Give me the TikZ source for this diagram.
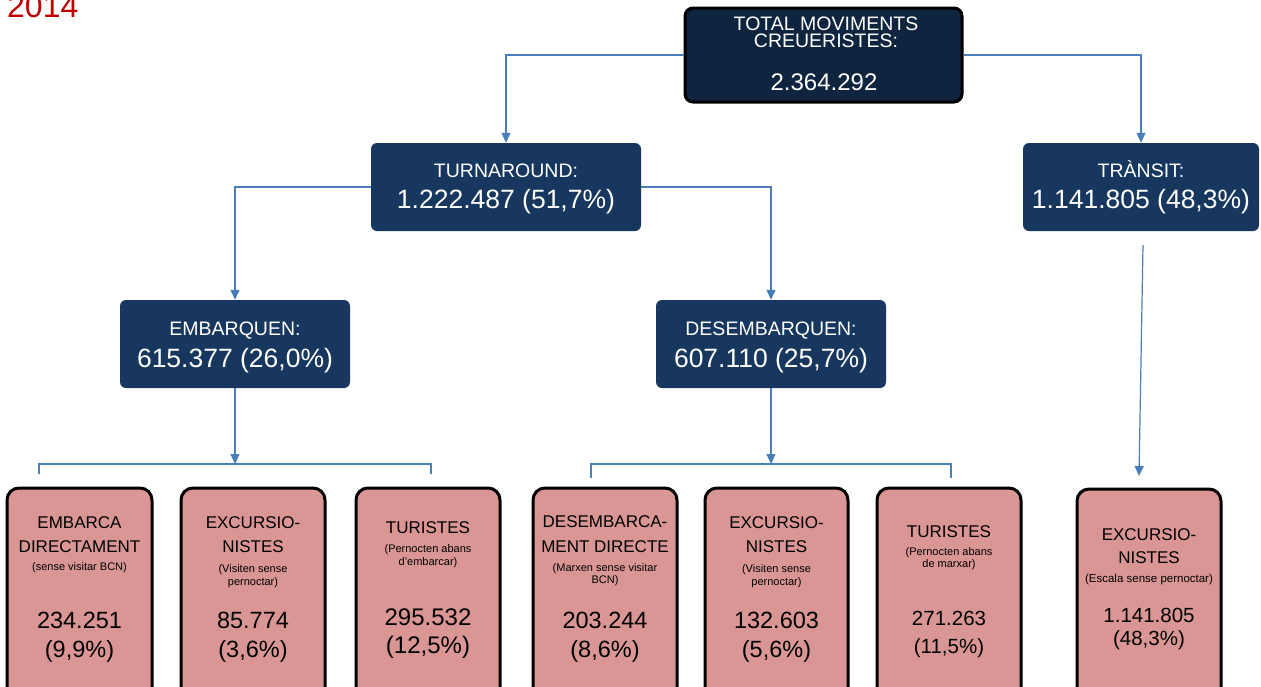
\documentclass[tikz,border=0pt]{standalone}
\usepackage{fontspec}
\setmainfont{Liberation Sans}
\usetikzlibrary{arrows.meta}
\definecolor{navy}{HTML}{0F243E}
\definecolor{dblue}{HTML}{17375E}
\definecolor{pinkbox}{HTML}{D99694}
\definecolor{conncol}{HTML}{4A7EBB}
\definecolor{redyear}{HTML}{C00000}
\newcommand\mytext[5]{\node[anchor=base,inner sep=0pt,font=\fontsize{#4}{#4}\selectfont] (#1) at (#2,#3) {#5};}
\tikzset{
  bluebox/.style={fill=dblue,draw=none,rounded corners=6pt,inner sep=0pt},
  totalbox/.style={fill=navy,draw=black,line width=3pt,rounded corners=8pt,inner sep=0pt},
  pinkb/.style={fill=pinkbox,draw=black,line width=3pt,rounded corners=12pt,inner sep=0pt},
  conn/.style={draw=conncol,line width=1.2pt},
  arr/.style={conn,-{Triangle[length=10pt,width=9pt]}},
}
\begin{document}
\begin{tikzpicture}[x=1pt,y=-1pt]
\useasboundingbox (0,0) rectangle (1261,686);
\clip (0,0) rectangle (1261,686);
% year
\node[anchor=base west,inner sep=0pt,text=redyear,font=\fontsize{32}{32}\selectfont] (year) at (7,17) {2014};
% upper boxes
\node[totalbox,minimum width=277pt,minimum height=94pt] (total) at (823.5,55) {};
\node[bluebox,minimum width=270pt,minimum height=88pt] (turn) at (506,187) {};
\node[bluebox,minimum width=236pt,minimum height=88pt] (transit) at (1141,187) {};
\node[bluebox,minimum width=230pt,minimum height=88pt] (emb) at (235,344) {};
\node[bluebox,minimum width=230pt,minimum height=88pt] (desemb) at (771,344) {};
% bottom boxes
\node[pinkb,minimum width=145pt,minimum height=222pt] (b1) at (79.5,599) {};
\node[pinkb,minimum width=144pt,minimum height=222pt] (b2) at (253,599) {};
\node[pinkb,minimum width=144pt,minimum height=222pt] (b3) at (428,599) {};
\node[pinkb,minimum width=144pt,minimum height=222pt] (b4) at (605,599) {};
\node[pinkb,minimum width=143pt,minimum height=222pt] (b5) at (776.5,599) {};
\node[pinkb,minimum width=144pt,minimum height=222pt] (b6) at (949,599) {};
\node[pinkb,minimum width=144pt,minimum height=222pt] (b7) at (1149,600) {};
% connectors
\draw[arr] (total.west) -| (turn.north);
\draw[arr] (total.east) -| (transit.north);
\draw[arr] (turn.west) -| (emb.north);
\draw[arr] (turn.east) -| (desemb.north);
\coordinate (embbr) at (235,464);
\coordinate (embL) at (39,474);
\coordinate (embR) at (431,474);
\draw[arr] (emb.south) -- (embbr);
\draw[conn] (embL) |- (embbr) -| (embR);
\coordinate (desbr) at (771,464);
\coordinate (desL) at (591,478);
\coordinate (desR) at (951,478);
\draw[arr] (desemb.south) -- (desbr);
\draw[conn] (desL) |- (desbr) -| (desR);
\coordinate (trs) at (1143,245);
\coordinate (tre) at (1139,476);
\draw[arr] (trs) -- (tre);
% texts in blue boxes
\begin{scope}[every node/.append style={text=white}]
\mytext{tA}{826}{30}{19.5}{TOTAL MOVIMENTS}
\mytext{tB}{826}{47}{19.5}{CREUERISTES:}
\mytext{tC}{824}{90}{24}{2.364.292}
\mytext{uA}{506}{177}{19.5}{TURNAROUND:}
\mytext{uB}{506}{208}{26.5}{1.222.487 (51,7\%)}
\mytext{rA}{1141}{177}{19.5}{TRÀNSIT:}
\mytext{rB}{1141}{208}{26.5}{1.141.805 (48,3\%)}
\mytext{eA}{235}{335}{19.5}{EMBARQUEN:}
\mytext{eB}{235}{367}{26.5}{615.377 (26,0\%)}
\mytext{dA}{771}{335}{19.5}{DESEMBARQUEN:}
\mytext{dB}{771}{367}{26.5}{607.110 (25,7\%)}
\end{scope}
% texts in pink boxes
\mytext{aA}{79.5}{528}{17}{EMBARCA}
\mytext{aB}{79.5}{552}{17}{DIRECTAMENT}
\mytext{aC}{79.5}{570}{11}{(sense visitar BCN)}
\mytext{aD}{79.5}{628}{23.5}{234.251}
\mytext{aE}{79.5}{657}{23.5}{(9,9\%)}
\mytext{bA}{253}{528}{17}{EXCURSIO-}
\mytext{bB}{253}{552}{17}{NISTES}
\mytext{bC}{253}{572}{11}{(Visiten sense}
\mytext{bD}{253}{585}{11}{pernoctar)}
\mytext{bE}{253}{628}{23.5}{85.774}
\mytext{bF}{253}{657}{23.5}{(3,6\%)}
\mytext{cA}{428}{533}{17}{TURISTES}
\mytext{cB}{428}{552}{11}{(Pernocten abans}
\mytext{cC}{428}{565}{11}{d’embarcar)}
\mytext{cD}{428}{625}{24}{295.532}
\mytext{cE}{428}{653}{24}{(12,5\%)}
\mytext{dA2}{605}{527}{17}{DESEMBARCA-}
\mytext{dB2}{605}{552}{17}{MENT DIRECTE}
\mytext{dC2}{605}{571}{11}{(Marxen sense visitar}
\mytext{dD2}{605}{583}{11}{BCN)}
\mytext{dE2}{605}{628}{23.5}{203.244}
\mytext{dF2}{605}{657}{23.5}{(8,6\%)}
\mytext{fA}{776.5}{528}{17}{EXCURSIO-}
\mytext{fB}{776.5}{552}{17}{NISTES}
\mytext{fC}{776.5}{572}{11}{(Visiten sense}
\mytext{fD}{776.5}{585}{11}{pernoctar)}
\mytext{fE}{776.5}{628}{23.5}{132.603}
\mytext{fF}{776.5}{657}{23.5}{(5,6\%)}
\mytext{gA}{949}{537}{17}{TURISTES}
\mytext{gB}{949}{555}{11}{(Pernocten abans}
\mytext{gC}{949}{567}{11}{de marxar)}
\mytext{gD}{949}{625}{20.5}{271.263}
\mytext{gE}{949}{653}{20.5}{(11,5\%)}
\mytext{hA}{1149}{540}{17}{EXCURSIO-}
\mytext{hB}{1149}{563}{17}{NISTES}
\mytext{hC}{1149}{582}{11.5}{(Escala sense pernoctar)}
\mytext{hD}{1149}{622}{20.5}{1.141.805}
\mytext{hE}{1149}{645}{20.5}{(48,3\%)}
\end{tikzpicture}
\end{document}
